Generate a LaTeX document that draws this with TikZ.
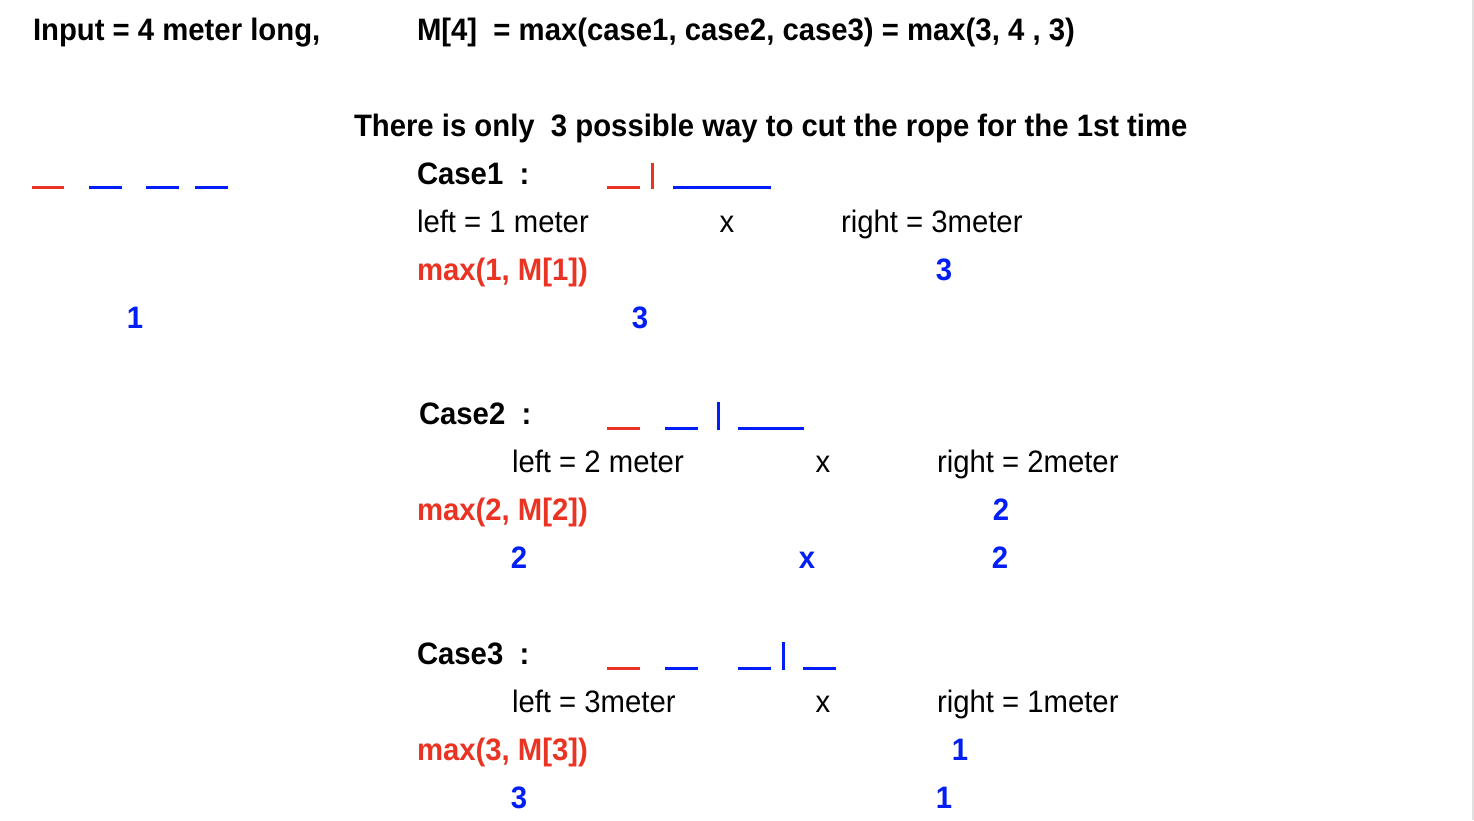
\documentclass[tikz,border=0pt]{standalone}
\usepackage{fontspec}
\setmainfont{Liberation Sans}[FakeStretch=0.945]
\definecolor{cred}{RGB}{234,51,35}
\definecolor{cblue}{RGB}{0,30,245}
\definecolor{edgegray}{RGB}{224,224,224}
\begin{document}
\begin{tikzpicture}[x=1pt,y=-1pt,
  base/.style={inner sep=0pt,outer sep=0pt,font=\fontsize{31}{36}\selectfont},
  lt/.style={base,anchor=base west},
  ct/.style={base,anchor=base},
  hd/.style={lt,font=\fontsize{31}{36}\selectfont\bfseries},
  redb/.style={lt,text=cred,font=\fontsize{31}{36}\selectfont\bfseries},
  blueb/.style={ct,text=cblue,font=\fontsize{31}{36}\selectfont\bfseries},
  rred/.style={draw=cred,line width=3pt},
  rblue/.style={draw=cblue,line width=3pt}]
\useasboundingbox[fill=white] (0,0) rectangle (1474,820);
\fill[edgegray] (1471.5,0) rectangle (1474,820);

% header
\node[hd] (input) at (33,40) {Input = 4 meter long,};
\node[hd] (m4) at (417,40) {M[4]\ \ = max(case1, case2, case3) = max(3, 4 , 3)};
\node[hd] (only) at (354,136) {There is only\ \ 3 possible way to cut the rope for the 1st time};

% whole rope
\draw[rred] (32,187.5) -- (64,187.5);
\draw[rblue] (89,187.5) -- (122,187.5);
\draw[rblue] (146,187.5) -- (179,187.5);
\draw[rblue] (195,187.5) -- (228,187.5);
\node[blueb] (one) at (135,328) {1};

% case 1
\node[hd] (c1) at (417,184) {Case1\ \ :};
\draw[rred] (607,187.5) -- (640,187.5);
\draw[rred] (652,163) -- (652,189);
\draw[rblue] (673,187.5) -- (771,187.5);
\node[lt] (l1) at (417,232) {left = 1 meter};
\node[ct] (x1) at (727,232) {x};
\node[lt] (r1) at (841,232) {right = 3meter};
\node[redb] (mx1) at (417,280) {max(1, M[1])};
\node[blueb] (v1r) at (944,280) {3};
\node[blueb] (v1) at (640,328) {3};

% case 2
\node[hd] (c2) at (419,424) {Case2\ \ :};
\draw[rred] (607,428) -- (640,428);
\draw[rblue] (665,428) -- (698,428);
\draw[rblue] (718,402) -- (718,430);
\draw[rblue] (738,428) -- (804,428);
\node[lt] (l2) at (512,472) {left = 2 meter};
\node[ct] (x2) at (823,472) {x};
\node[lt] (r2) at (937,472) {right = 2meter};
\node[redb] (mx2) at (417,520) {max(2, M[2])};
\node[blueb] (v2r) at (1001,520) {2};
\node[blueb] (v2a) at (519,568) {2};
\node[blueb] (v2x) at (807,568) {x};
\node[blueb] (v2b) at (1000,568) {2};

% case 3
\node[hd] (c3) at (417,664) {Case3\ \ :};
\draw[rred] (607,668) -- (640,668);
\draw[rblue] (665,668) -- (698,668);
\draw[rblue] (738,668) -- (771,668);
\draw[rblue] (783,642) -- (783,670);
\draw[rblue] (803,668) -- (836,668);
\node[lt] (l3) at (512,712) {left = 3meter};
\node[ct] (x3) at (823,712) {x};
\node[lt] (r3) at (937,712) {right = 1meter};
\node[redb] (mx3) at (417,760) {max(3, M[3])};
\node[blueb] (v3r) at (960,760) {1};
\node[blueb] (v3a) at (519,808) {3};
\node[blueb] (v3b) at (944,808) {1};
\end{tikzpicture}
\end{document}
